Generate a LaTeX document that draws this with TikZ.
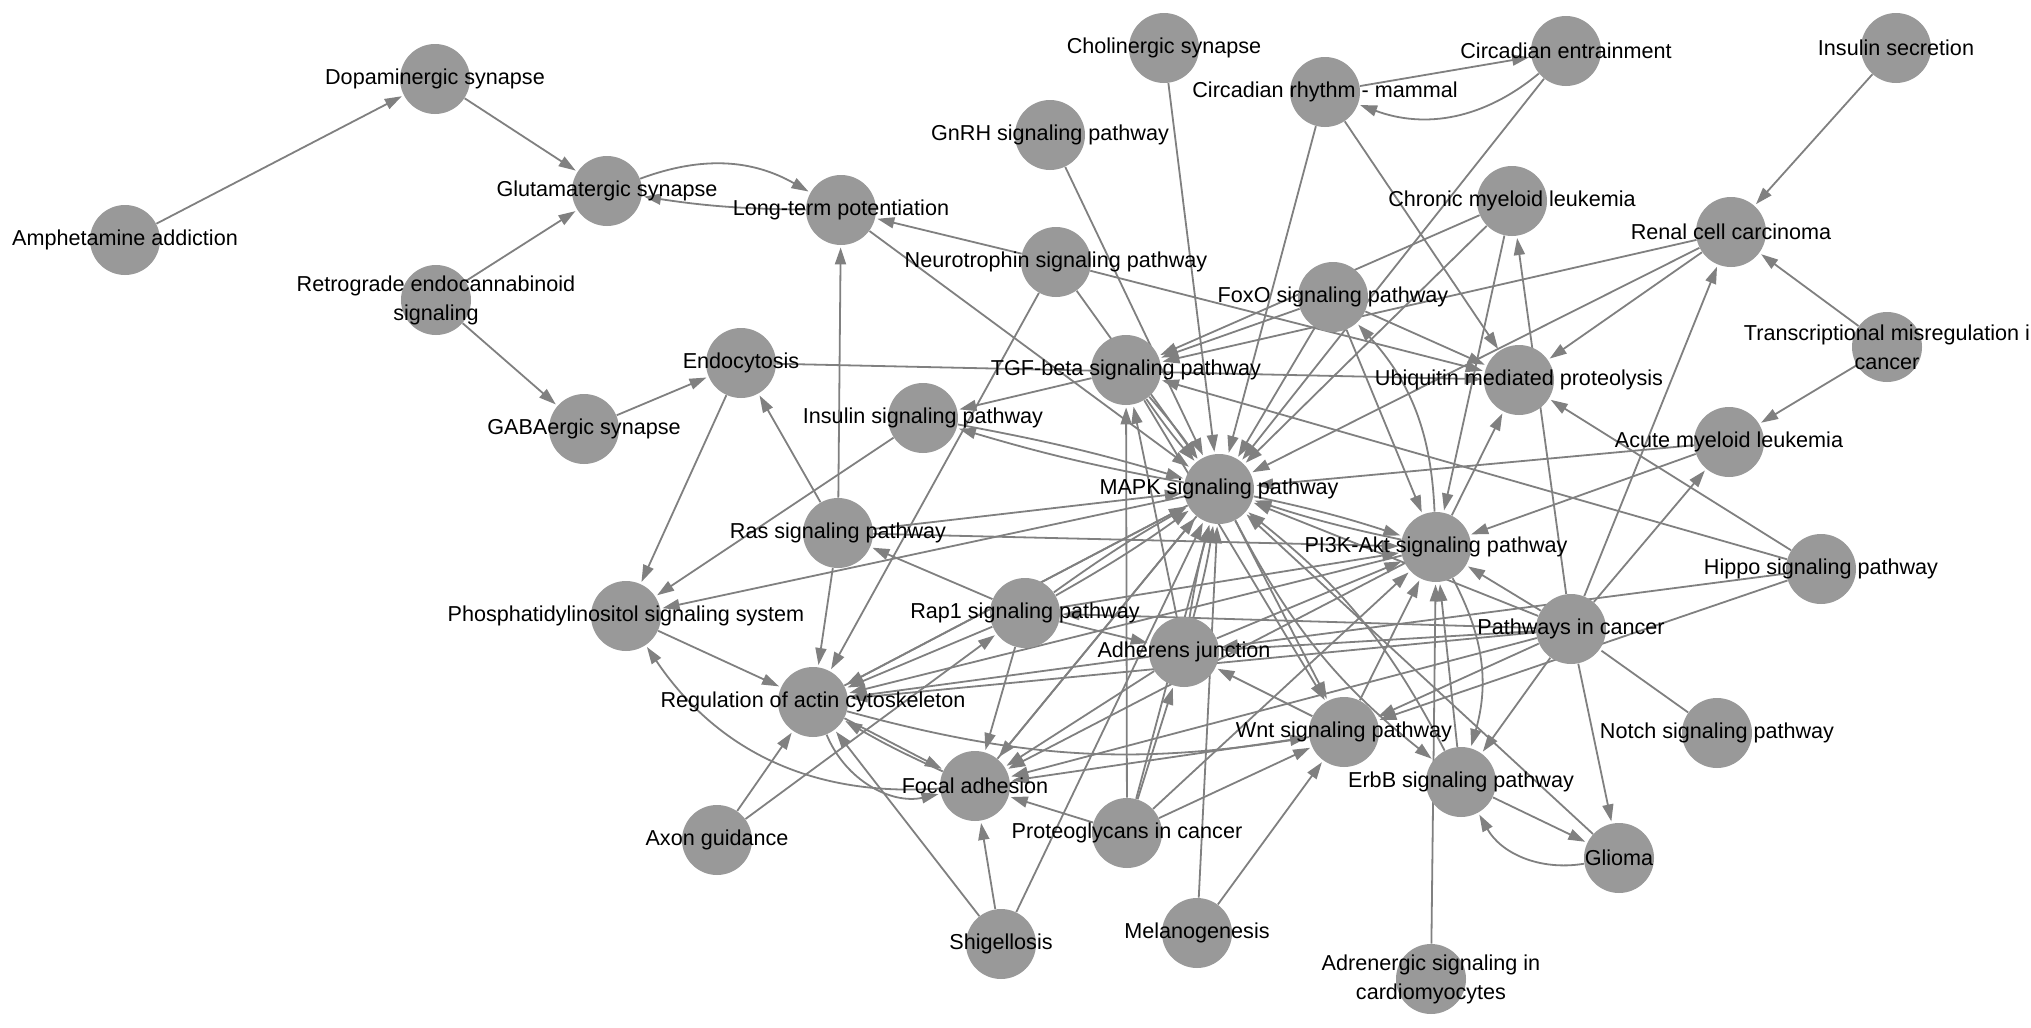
\documentclass[tikz,border=0pt]{standalone}
\usepackage{fontspec}
\setmainfont{Liberation Sans}
\usetikzlibrary{arrows.meta}
\definecolor{nodegray}{RGB}{153,153,153}
\definecolor{edgegray}{RGB}{128,128,128}
\pgfdeclarelayer{bg}
\pgfdeclarelayer{edges}
\pgfsetlayers{bg,edges,main}
\tikzset{
  pathway/.style={circle, fill=nodegray, minimum size=35pt, inner sep=0pt},
  pwtext/.style={font=\fontsize{10.8}{14.5}\selectfont, text=black, align=center, inner sep=0pt},
  link/.style={draw=edgegray, line width=0.9pt, -{Triangle[length=8.5pt,width=5.5pt]}, shorten >=1pt},
}

\begin{document}
\begin{tikzpicture}[x=0.5pt,y=-0.5pt]
\begin{pgfonlayer}{bg}
\fill[white] (0,0) rectangle (2031,1028);
\end{pgfonlayer}
\useasboundingbox (0,0) rectangle (2031,1028);
% pathways
\node[pathway, label={[pwtext]center:Amphetamine addiction}] (amph) at (125,240) {};
\node[pathway, label={[pwtext]center:Dopaminergic synapse}] (dopa) at (435,79) {};
\node[pathway, label={[pwtext]center:Glutamatergic synapse}] (gluta) at (607,191) {};
\node[pathway, label={[pwtext]center:Long-term potentiation}] (ltp) at (841,210) {};
\node[pathway, label={[pwtext]center:{Retrograde endocannabinoid\\signaling}}] (retro) at (436,300) {};
\node[pathway, label={[pwtext]center:GABAergic synapse}] (gaba) at (584,429) {};
\node[pathway, label={[pwtext]center:Endocytosis}] (endo) at (741,363) {};
\node[pathway, label={[pwtext]center:Insulin signaling pathway}] (inssig) at (923,418) {};
\node[pathway, label={[pwtext]center:Ras signaling pathway}] (ras) at (838,533) {};
\node[pathway, label={[pwtext]center:Phosphatidylinositol signaling system}] (phos) at (626,616) {};
\node[pathway, label={[pwtext]center:Regulation of actin cytoskeleton}] (regul) at (813,702) {};
\node[pathway, label={[pwtext]center:Axon guidance}] (axon) at (717,840) {};
\node[pathway, label={[pwtext]center:Focal adhesion}] (focal) at (975,786) {};
\node[pathway, label={[pwtext]center:Shigellosis}] (shig) at (1001,944) {};
\node[pathway, label={[pwtext]center:Melanogenesis}] (melano) at (1197,933) {};
\node[pathway, label={[pwtext]center:Proteoglycans in cancer}] (proteo) at (1127,833) {};
\node[pathway, label={[pwtext]center:Rap1 signaling pathway}] (rap1) at (1025,613) {};
\node[pathway, label={[pwtext]center:Adherens junction}] (adh) at (1184,652) {};
\node[pathway, label={[pwtext]center:Wnt signaling pathway}] (wnt) at (1344,732) {};
\node[pathway, label={[pwtext]center:MAPK signaling pathway}] (mapk) at (1219,489) {};
\node[pathway, label={[pwtext]center:TGF-beta signaling pathway}] (tgf) at (1126,370) {};
\node[pathway, label={[pwtext]center:Neurotrophin signaling pathway}] (neuro) at (1056,262) {};
\node[pathway, label={[pwtext]center:GnRH signaling pathway}] (gnrh) at (1050,135) {};
\node[pathway, label={[pwtext]center:Cholinergic synapse}] (chol) at (1164,48) {};
\node[pathway, label={[pwtext]center:Circadian rhythm - mammal}] (circr) at (1325,92) {};
\node[pathway, label={[pwtext]center:Circadian entrainment}] (circe) at (1566,51) {};
\node[pathway, label={[pwtext]center:Insulin secretion}] (inssec) at (1896,48) {};
\node[pathway, label={[pwtext]center:Chronic myeloid leukemia}] (cml) at (1512,201) {};
\node[pathway, label={[pwtext]center:FoxO signaling pathway}] (foxo) at (1333,297) {};
\node[pathway, label={[pwtext]center:Renal cell carcinoma}] (renal) at (1731,232) {};
\node[pathway, label={[pwtext]center:Ubiquitin mediated proteolysis}] (ubiq) at (1519,380) {};
\node[pathway, label={[pwtext]center:{Transcriptional misregulation i\\cancer}}] (transc) at (1887,347) {};
\node[pathway, label={[pwtext]center:Acute myeloid leukemia}] (aml) at (1729,442) {};
\node[pathway, label={[pwtext]center:PI3K-Akt signaling pathway}] (pi3k) at (1436,547) {};
\node[pathway, label={[pwtext]center:Hippo signaling pathway}] (hippo) at (1821,569) {};
\node[pathway, label={[pwtext]center:Pathways in cancer}] (pic) at (1571,629) {};
\node[pathway, label={[pwtext]center:Notch signaling pathway}] (notch) at (1717,733) {};
\node[pathway, label={[pwtext]center:ErbB signaling pathway}] (erbb) at (1461,782) {};
\node[pathway, label={[pwtext]center:Glioma}] (glioma) at (1619,858) {};
\node[pathway, label={[pwtext]center:{Adrenergic signaling in\\cardiomyocytes}}] (adren) at (1431,979) {};
% links
\begin{pgfonlayer}{edges}
\draw[link] (amph) -- (dopa);
\draw[link] (dopa) -- (gluta);
\draw[link] (retro) -- (gluta);
\draw[link] (retro) -- (gaba);
\draw[link] (gluta) to[bend left=25] (ltp);
\draw[link] (ltp) to[bend left=4] (gluta);
\draw[link] (gaba) -- (endo);
\draw[link] (endo) -- (phos);
\draw[link] (ras) -- (endo);
\draw[link] (ras) -- (ltp);
\draw[link] (ltp) -- (mapk);
\draw[link] (endo) -- (ubiq);
\draw[link] (inssig) -- (phos);
\draw[link] (tgf) -- (inssig);
\draw[link] (mapk) to[bend left=3] (inssig);
\draw[link] (inssig) to[bend left=3] (mapk);
\draw[link] (mapk) -- (phos);
\draw[link] (ras) -- (mapk);
\draw[link] (ras) -- (pi3k);
\draw[link] (ras) -- (regul);
\draw[link] (neuro) -- (regul);
\draw[link] (neuro) -- (ltp);
\draw[link] (neuro) -- (mapk);
\draw[link] (neuro) -- (ubiq);
\draw[link] (gnrh) -- (mapk);
\draw[link] (chol) -- (mapk);
\draw[link] (circr) -- (mapk);
\draw[link] (circr) -- (ubiq);
\draw[link] (circr) -- (circe);
\draw[link] (circe) to[bend left=30] (circr);
\draw[link] (circe) -- (mapk);
\draw[link] (inssec) -- (renal);
\draw[link] (cml) -- (mapk);
\draw[link] (cml) -- (tgf);
\draw[link] (cml) -- (pi3k);
\draw[link] (pic) -- (cml);
\draw[link] (foxo) -- (mapk);
\draw[link] (foxo) -- (tgf);
\draw[link] (foxo) -- (pi3k);
\draw[link] (pi3k) to[bend right=20] (foxo);
\draw[link] (foxo) -- (ubiq);
\draw[link] (renal) -- (tgf);
\draw[link] (renal) -- (mapk);
\draw[link] (renal) -- (ubiq);
\draw[link] (pic) -- (renal);
\draw[link] (transc) -- (renal);
\draw[link] (transc) -- (aml);
\draw[link] (pi3k) -- (ubiq);
\draw[link] (aml) -- (mapk);
\draw[link] (aml) -- (pi3k);
\draw[link] (pic) -- (aml);
\draw[link] (hippo) -- (ubiq);
\draw[link] (hippo) -- (tgf);
\draw[link] (hippo) -- (adh);
\draw[link] (hippo) -- (wnt);
\draw[link] (pic) -- (glioma);
\draw[link] (erbb) -- (glioma);
\draw[link] (glioma) to[bend left=35] (erbb);
\draw[link] (glioma) -- (mapk);
\draw[link, -] (notch) -- (pic);
\draw[link] (pic) -- (mapk);
\draw[link] (pic) -- (pi3k);
\draw[link] (pic) -- (wnt);
\draw[link] (pic) -- (erbb);
\draw[link] (pic) -- (focal);
\draw[link] (pic) -- (adh);
\draw[link] (pic) -- (regul);
\draw[link] (pic) -- (rap1);
\draw[link] (pi3k) to[bend left=3] (mapk);
\draw[link] (mapk) to[bend left=3] (pi3k);
\draw[link] (pi3k) to[bend left=22] (erbb);
\draw[link] (adren) -- (pi3k);
\draw[link] (erbb) -- (pi3k);
\draw[link] (erbb) to[bend right=12] (mapk);
\draw[link] (mapk) to[bend right=12] (erbb);
\draw[link] (rap1) -- (ras);
\draw[link] (rap1) -- (regul);
\draw[link] (rap1) -- (focal);
\draw[link] (rap1) to[bend left=3] (mapk);
\draw[link] (rap1) to[bend right=3] (mapk);
\draw[link] (rap1) -- (pi3k);
\draw[link] (rap1) -- (adh);
\draw[link] (axon) -- (regul);
\draw[link] (axon) -- (rap1);
\draw[link] (shig) -- (focal);
\draw[link] (shig) -- (regul);
\draw[link] (shig) -- (mapk);
\draw[link] (melano) -- (wnt);
\draw[link] (melano) -- (mapk);
\draw[link] (proteo) -- (focal);
\draw[link] (proteo) -- (adh);
\draw[link] (proteo) -- (mapk);
\draw[link] (proteo) -- (tgf);
\draw[link] (proteo) -- (wnt);
\draw[link] (proteo) -- (pi3k);
\draw[link] (wnt) -- (focal);
\draw[link] (wnt) -- (adh);
\draw[link] (regul) to[bend right=12] (wnt);
\draw[link] (wnt) -- (pi3k);
\draw[link] (mapk) -- (wnt);
\draw[link] (tgf) -- (wnt);
\draw[link] (tgf) to[bend left=3] (mapk);
\draw[link] (tgf) to[bend right=3] (mapk);
\draw[link] (adh) to[bend left=3] (mapk);
\draw[link] (adh) to[bend right=3] (mapk);
\draw[link] (focal) -- (mapk);
\draw[link] (regul) -- (mapk);
\draw[link] (regul) -- (focal);
\draw[link] (focal) to[bend left=3] (regul);
\draw[link] (regul) to[bend right=40] (focal);
\draw[link] (focal) to[bend left=30] (phos);
\draw[link] (phos) -- (regul);
\draw[link] (adh) -- (tgf);
\draw[link] (adh) -- (regul);
\draw[link] (adh) -- (focal);
\draw[link] (adh) -- (pi3k);
\draw[link] (pi3k) -- (regul);
\draw[link] (pi3k) -- (focal);
\draw[link] (mapk) -- (focal);
\draw[link] (mapk) -- (regul);
\end{pgfonlayer}
\end{tikzpicture}
\end{document}
